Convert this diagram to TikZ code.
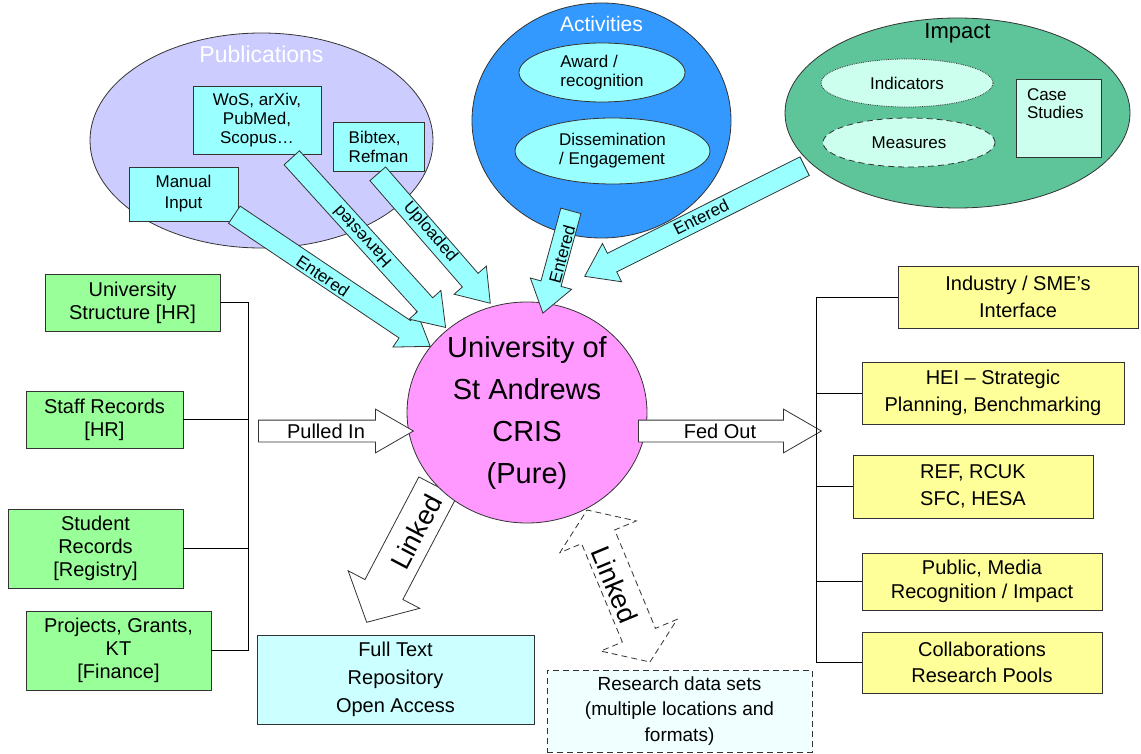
\documentclass[tikz,border=0pt]{standalone}
\usepackage{fontspec}
\setmainfont{Liberation Sans}
\usetikzlibrary{shapes.geometric,shapes.arrows}

\definecolor{pubviolet}{HTML}{CCCCFF}
\definecolor{aqua}{HTML}{99FFFF}
\definecolor{actblue}{HTML}{3399FF}
\definecolor{impgreen}{HTML}{5EC49A}
\definecolor{mint}{HTML}{CCFFEE}
\definecolor{crispink}{HTML}{FF99FF}
\definecolor{srcgreen}{HTML}{99FF99}
\definecolor{outyellow}{HTML}{FFFF99}
\definecolor{repocyan}{HTML}{CCFFFF}
\definecolor{datacyan}{HTML}{F0FFFF}

\begin{document}
\begin{tikzpicture}[x=1pt,y=-1pt,line width=0.8pt,
 font=\fontsize{20}{23}\selectfont]
 \tikzstyle{box}=[rectangle,draw=black!80,inner sep=0pt,align=center]
 \tikzstyle{source}=[box,fill=srcgreen]
 \tikzstyle{target}=[box,fill=outyellow,font=\fontsize{20}{26.5}\selectfont]
 \tikzstyle{entry}=[box,fill=aqua,font=\fontsize{17}{19}\selectfont]
 \tikzstyle{blob}=[ellipse,draw=black!80,inner sep=0pt]
 \tikzstyle{title}=[inner sep=0pt,font=\fontsize{23}{23}\selectfont]
 \tikzstyle{feed}=[single arrow,draw=black!80,fill=aqua,inner sep=0pt,
  text height=20pt,text depth=0pt,single arrow head extend=11pt,
  single arrow tip angle=70,anchor=tail]
 \tikzstyle{flow}=[feed,fill=white,text height=21pt,single arrow tip angle=60]
 \tikzstyle{tag}=[inner sep=0pt,font=\fontsize{17}{17}\selectfont]
 \tikzstyle{bigtag}=[inner sep=0pt,font=\fontsize{27}{27}\selectfont]
 \tikzstyle{loose}=[dash pattern=on 6pt off 4pt]
 \useasboundingbox (0,0) rectangle (1141,754);

 % publications
 \node[blob,fill=pubviolet,minimum width=343pt,minimum height=215pt] (pubs) at (261.5,140.5) {};
 \node[title,text=white] (pubstitle) at ([yshift=-22pt]pubs.north) {Publications};
 \node[entry,minimum width=128pt,minimum height=68pt] (wos) at (257,120) {WoS, arXiv,\\PubMed,\\Scopus…};
 \node[entry,align=left,minimum width=91pt,minimum height=49pt] (bib) at (378.5,146.5) {Bibtex,\\Refman};
 \node[entry,minimum width=109pt,minimum height=54pt,font=\fontsize{17}{21}\selectfont] (manual) at (183.5,194) {Manual\\Input};

 % activities
 \node[blob,fill=actblue,minimum width=259pt,minimum height=235pt] (acts) at (601.5,120.5) {};
 \node[title,text=white,font=\fontsize{21}{21}\selectfont] (actstitle) at ([yshift=-21pt]acts.north) {Activities};
 \node[blob,fill=aqua,align=left,minimum width=166pt,minimum height=59pt,font=\fontsize{17}{19}\selectfont] (award) at (602,72.5) {Award /\\recognition};
 \node[blob,fill=aqua,align=left,minimum width=195pt,minimum height=66pt,font=\fontsize{17}{19}\selectfont] (dissem) at (612.5,151) {Dissemination\\/ Engagement};

 % impact
 \node[blob,fill=impgreen,minimum width=345pt,minimum height=190pt] (imp) at (957.5,113) {};
 \node[title,font=\fontsize{22}{22}\selectfont] (imptitle) at ([yshift=-16pt]imp.north) {Impact};
 \node[blob,densely dotted,fill=mint,minimum width=172pt,minimum height=48pt,font=\fontsize{17}{19}\selectfont] (indic) at (907,83) {Indicators};
 \node[blob,loose,fill=mint,minimum width=172pt,minimum height=49pt,font=\fontsize{17}{19}\selectfont] (measures) at (909,142.5) {Measures};
 \node[box,fill=mint,minimum width=85pt,minimum height=78pt] (case) at (1058.5,118) {};
 \node[anchor=north west,align=left,inner sep=0pt,font=\fontsize{17}{18}\selectfont] (casetext) at ([xshift=11pt,yshift=-10pt]case.north west) {Case\\Studies};

 % link to the repository, under the centre
 \coordinate (repolink) at (438,486.5);
 \node[feed,fill=white,text height=42pt,single arrow head extend=19pt,
  single arrow tip angle=95,minimum height=153pt,rotate=-117.7] (linkrepo) at (repolink) {};
 \node[bigtag,rotate=62.3] (linkrepotag) at (416,532) {Linked};

 % centre
 \node[blob,fill=crispink,minimum width=240pt,minimum height=221pt] (cris) at (527,412.5) {};
 \node[align=center,inner sep=0pt,font=\fontsize{29}{42}\selectfont] (cristext) at (cris) {University of\\St Andrews\\CRIS\\(Pure)};

 % entry arrows
 \coordinate (manualout) at (234,214.5);
 \coordinate (wosout) at (291.5,157.5);
 \coordinate (bibout) at (377.5,173.5);
 \coordinate (actsout) at (571,210.5);
 \coordinate (impout) at (805,166);
 \node[feed,minimum height=236pt,rotate=-33.9] (entm) at (manualout) {};
 \node[feed,minimum height=229pt,rotate=-47.8] (harv) at (wosout) {};
 \node[feed,minimum height=171.5pt,rotate=-49] (upl) at (bibout) {};
 \node[feed,minimum height=106pt,rotate=-105.3] (enta) at (actsout) {};
 \node[feed,minimum height=246pt,rotate=-153.4] (enti) at (impout) {};
 \node[tag,rotate=-33.9] (entmtag) at (323,276) {Entered};
 \node[tag,rotate=132.2] (harvtag) at (362,237) {Harvested};
 \node[tag,rotate=-49] (upltag) at (430,232) {Uploaded};
 \node[tag,rotate=74.7] (entatag) at (562,254) {Entered};
 \node[tag,rotate=26.6] (entitag) at (701,217) {Entered};

 % in and out
 \coordinate (lbus) at (248,0);
 \coordinate (rbus) at (816,0);
 \node[flow,minimum height=155pt] (pull) at (258,431) {};
 \node[flow,minimum height=183pt] (fed) at (638,431) {};
 \node[inner sep=0pt] (pulltag) at (326,431) {Pulled In};
 \node[inner sep=0pt] (fedtag) at (720,431) {Fed Out};

 % link to the data sets
 \node[double arrow,draw=black!80,loose,fill=white,inner sep=0pt,text height=35pt,text depth=0pt,
  double arrow head extend=23.5pt,double arrow tip angle=110,minimum height=164.5pt,rotate=-67.5] (linkdata) at (618.5,586) {};
 \node[bigtag,rotate=-67.5] (linkdatatag) at (615,585) {Linked};

 % sources
 \node[source,minimum width=175pt,minimum height=57pt] (ustruct) at (132.5,302.5) {University\\Structure [HR]};
 \node[source,minimum width=157pt,minimum height=57pt] (staff) at (104.5,419.5) {Staff Records\\{}[HR]};
 \node[source,minimum width=175pt,minimum height=79pt] (student) at (95.5,548.5) {Student\\Records\\{}[Registry]};
 \node[source,minimum width=185pt,minimum height=79pt] (proj) at (118.5,650.5) {Projects, Grants,\\KT\\{}[Finance]};
 \draw (ustruct.east) -- (ustruct.east -| lbus) -- (proj.east -| lbus) -- (proj.east);
 \draw (staff.east) -- (staff.east -| lbus);
 \draw (student.east) -- (student.east -| lbus);

 % targets
 \node[target,minimum width=240pt,minimum height=62pt] (industry) at (1018,297) {Industry / SME’s\\Interface};
 \node[target,minimum width=262pt,minimum height=62pt] (hei) at (993,393) {HEI – Strategic\\Planning, Benchmarking};
 \node[target,minimum width=240pt,minimum height=63pt] (ref) at (973,486.5) {REF, RCUK\\SFC, HESA};
 \node[target,minimum width=240pt,minimum height=57pt,font=\fontsize{20}{23.5}\selectfont] (public) at (982,581.5) {Public, Media\\Recognition / Impact};
 \node[target,minimum width=240pt,minimum height=61pt] (collab) at (982,662.5) {Collaborations\\Research Pools};
 \draw (industry.west) -- (industry.west -| rbus) -- (collab.west -| rbus) -- (collab.west);
 \draw (hei.west) -- (hei.west -| rbus);
 \draw (ref.west) -- (ref.west -| rbus);
 \draw (public.west) -- (public.west -| rbus);

 % linked stores
 \node[box,fill=repocyan,minimum width=277pt,minimum height=89pt,font=\fontsize{20}{28}\selectfont] (repo) at (395.5,679.5) {Full Text\\Repository\\Open Access};
 \node[box,loose,fill=datacyan,minimum width=265pt,minimum height=82pt,font=\fontsize{19}{25.5}\selectfont] (data) at (679.5,711) {Research data sets\\(multiple locations and\\formats)};
\end{tikzpicture}
\end{document}
